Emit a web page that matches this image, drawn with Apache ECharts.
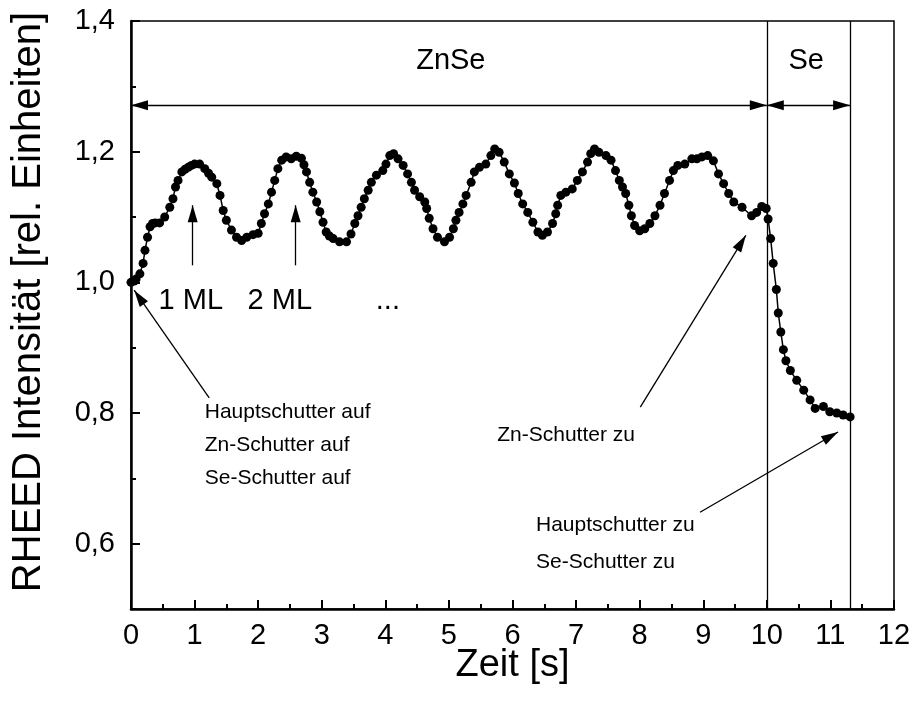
<!DOCTYPE html>
<html><head><meta charset="utf-8">
<script src="https://cdn.jsdelivr.net/npm/echarts@6/dist/echarts.min.js"></script>
<style>html,body{margin:0;padding:0;background:#fff}#c{width:914px;height:702px}</style>
</head><body><div id="c"></div>
<script>
// ---- data ----
const timeS = [0.00,0.05,0.08,0.14,0.19,0.22,0.26,0.30,0.34,0.38,0.45,0.53,0.61,0.66,0.70,0.74,0.80,0.85,0.90,0.95,1.00,1.08,1.16,1.22,1.27,1.35,1.40,1.45,1.50,1.58,1.66,1.74,1.82,1.92,2.00,2.05,2.10,2.16,2.21,2.26,2.31,2.37,2.44,2.52,2.60,2.68,2.72,2.76,2.81,2.86,2.92,2.97,3.02,3.07,3.12,3.18,3.28,3.39,3.46,3.52,3.57,3.62,3.67,3.73,3.78,3.86,3.96,4.01,4.07,4.13,4.20,4.28,4.35,4.41,4.46,4.54,4.62,4.65,4.69,4.75,4.82,4.93,5.01,5.07,5.11,5.16,5.22,5.27,5.35,5.40,5.48,5.58,5.66,5.72,5.79,5.87,5.95,6.03,6.09,6.16,6.24,6.32,6.40,6.47,6.55,6.63,6.68,6.71,6.76,6.84,6.94,7.02,7.10,7.18,7.23,7.29,7.36,7.47,7.55,7.62,7.68,7.73,7.78,7.83,7.87,7.92,8.00,8.08,8.16,8.24,8.32,8.39,8.47,8.53,8.60,8.71,8.82,8.90,8.98,9.07,9.16,9.24,9.32,9.40,9.48,9.61,9.76,9.84,9.92,9.99,10.02,10.06,10.10,10.15,10.18,10.22,10.26,10.30,10.37,10.47,10.58,10.68,10.76,10.89,10.99,11.10,11.20,11.31];
const intensity = [1.000,1.002,1.005,1.013,1.029,1.049,1.069,1.085,1.090,1.091,1.091,1.100,1.115,1.128,1.146,1.156,1.169,1.173,1.176,1.179,1.181,1.181,1.174,1.167,1.161,1.151,1.133,1.110,1.095,1.080,1.069,1.064,1.069,1.073,1.075,1.090,1.105,1.120,1.138,1.156,1.174,1.187,1.192,1.189,1.193,1.190,1.180,1.169,1.153,1.138,1.123,1.108,1.092,1.077,1.071,1.067,1.062,1.062,1.074,1.090,1.102,1.115,1.128,1.141,1.153,1.164,1.171,1.181,1.194,1.197,1.189,1.179,1.166,1.153,1.141,1.131,1.123,1.113,1.098,1.082,1.069,1.062,1.069,1.082,1.095,1.107,1.120,1.133,1.153,1.169,1.176,1.181,1.194,1.204,1.199,1.184,1.166,1.152,1.136,1.120,1.107,1.092,1.077,1.072,1.077,1.090,1.105,1.118,1.133,1.138,1.143,1.156,1.169,1.184,1.197,1.204,1.199,1.194,1.187,1.171,1.156,1.146,1.136,1.118,1.102,1.087,1.079,1.082,1.090,1.102,1.118,1.136,1.156,1.171,1.179,1.181,1.189,1.189,1.192,1.194,1.186,1.166,1.151,1.136,1.123,1.115,1.102,1.107,1.116,1.113,1.097,1.067,1.029,0.989,0.953,0.924,0.897,0.880,0.865,0.850,0.835,0.820,0.807,0.810,0.802,0.800,0.797,0.794];
const yMajorTicks = [0.6, 0.8, 1.0, 1.2, 1.4];
const shutterTimes = [10, 11.31];
const phaseNames = ['ZnSe', 'Se'];
const phaseCenters = [5.03, 10.62];
const phaseArrowLevel = 1.271;
const mlLabels = ['1 ML', '2 ML', '...'];
const mlLabelTimes = [0.94, 2.34, 4.04];
const mlArrowTimes = [0.97, 2.59];
const noteStartLines = ['Hauptschutter auf', 'Zn-Schutter auf', 'Se-Schutter auf'];
const noteZnLines = ['Zn-Schutter zu'];
const noteEndLines = ['Hauptschutter zu', 'Se-Schutter zu'];
const xTitle = 'Zeit [s]';
const yTitle = 'RHEED Intensität [rel. Einheiten]';

const FONT = '"Liberation Sans", Arial, Helvetica, sans-serif';
const chart = echarts.init(document.getElementById('c'), null, {renderer: 'canvas'});
const arrowHead = {symbol: 'triangle', symbolSize: [10, 17], symbolOffset: [0, 8.5]};
const noHead = {symbol: 'none'};
function arrow(a, b) { return [Object.assign({coord: a}, noHead), Object.assign({coord: b}, arrowHead)]; }
function dblArrow(a, b) { return [Object.assign({coord: a}, arrowHead), Object.assign({coord: b}, arrowHead)]; }
function plain(a, b) { return [Object.assign({coord: a}, noHead), Object.assign({coord: b}, noHead)]; }

const markData = [
  plain([shutterTimes[0], 0.5], [shutterTimes[0], 1.4]),
  plain([shutterTimes[1], 0.5], [shutterTimes[1], 1.4]),
  dblArrow([0, phaseArrowLevel], [shutterTimes[0], phaseArrowLevel]),
  dblArrow([shutterTimes[0], phaseArrowLevel], [shutterTimes[1], phaseArrowLevel]),
  arrow([mlArrowTimes[0], 1.026], [mlArrowTimes[0], 1.118]),
  arrow([mlArrowTimes[1], 1.026], [mlArrowTimes[1], 1.118]),
  arrow([1.23, 0.823], [0.05, 0.988]),
  arrow([8.01, 0.809], [9.67, 1.072]),
  arrow([8.95, 0.648], [11.12, 0.771])
];

const option = {
  animation: false,
  backgroundColor: '#fff',
  textStyle: {fontFamily: FONT, color: '#000'},
  grid: {left: 131, right: 20, top: 21, bottom: 93, show: true, borderColor: '#000', borderWidth: 1.5, backgroundColor: 'transparent'},
  xAxis: {
    type: 'value', min: 0, max: 12, interval: 1,
    name: xTitle, nameLocation: 'middle', nameGap: 38, nameMoveOverlap: false,
    nameTextStyle: {fontSize: 38, fontFamily: FONT, color: '#000'},
    axisLine: {show: true, onZero: false, lineStyle: {color: '#000', width: 2.5}},
    axisTick: {show: true, inside: true, length: 9, lineStyle: {color: '#000', width: 2}},
    minorTick: {show: true, splitNumber: 2, length: 5, lineStyle: {color: '#000', width: 2}},
    axisLabel: {fontSize: 29, fontFamily: FONT, color: '#000', margin: 12, formatter: v => String(v)},
    splitLine: {show: false}, minorSplitLine: {show: false}
  },
  yAxis: [{
    type: 'value', min: 0.5, max: 1.4,
    name: yTitle, nameLocation: 'middle', nameGap: 82,
    nameTextStyle: {fontSize: 40, fontFamily: FONT, color: '#000', padding: [0, 0, 0, 26]},
    axisLine: {show: true, onZero: false, lineStyle: {color: '#000', width: 2.5}},
    axisTick: {show: true, inside: true, length: 9, customValues: yMajorTicks, lineStyle: {color: '#000', width: 2}},
    axisLabel: {fontSize: 29, fontFamily: FONT, color: '#000', margin: 16, customValues: yMajorTicks,
      formatter: v => v.toFixed(1).replace('.', ',')},
    splitLine: {show: false}
  }, {
    type: 'value', min: 0.5, max: 1.4, interval: 0.1, position: 'left',
    axisLine: {show: false},
    axisTick: {show: true, inside: true, length: 5, lineStyle: {color: '#000', width: 2}},
    axisLabel: {show: false}, splitLine: {show: false}
  }],
  series: [{
    type: 'line', name: 'RHEED',
    data: timeS.map((t, i) => [t, intensity[i]]),
    symbol: 'circle', symbolSize: 9, showSymbol: true,
    itemStyle: {color: '#000'}, lineStyle: {color: '#000', width: 1.5},
    silent: true, z: 5,
    markLine: {
      silent: true, animation: false, symbol: ['none', 'none'],
      label: {show: false}, emphasis: {disabled: true},
      lineStyle: {color: '#000', width: 1.3, type: 'solid'},
      data: markData
    }
  }]
};
chart.setOption(option);

function px(t, v) { return chart.convertToPixel({gridIndex: 0}, [t, v]); }
function txt(t, v, text, size, align) {
  const p = px(t, v);
  return {type: 'text', x: p[0], y: p[1], silent: true, z: 10,
    style: {text: text, font: size + 'px ' + FONT, fill: '#000', textAlign: align || 'center', textVerticalAlign: 'middle'}};
}
const g = [];
phaseNames.forEach((n, i) => g.push(txt(phaseCenters[i], 1.339, n, 29)));
mlLabels.forEach((n, i) => g.push(txt(mlLabelTimes[i], 0.972, n, 29)));
[0.801, 0.751, 0.700].forEach((v, i) => g.push(txt(1.16, v, noteStartLines[i], 21, 'left')));
noteZnLines.forEach(n => g.push(txt(5.76, 0.766, n, 21, 'left')));
[0.628, 0.572].forEach((v, i) => g.push(txt(6.37, v, noteEndLines[i], 21, 'left')));
chart.setOption({graphic: g});
</script></body></html>
